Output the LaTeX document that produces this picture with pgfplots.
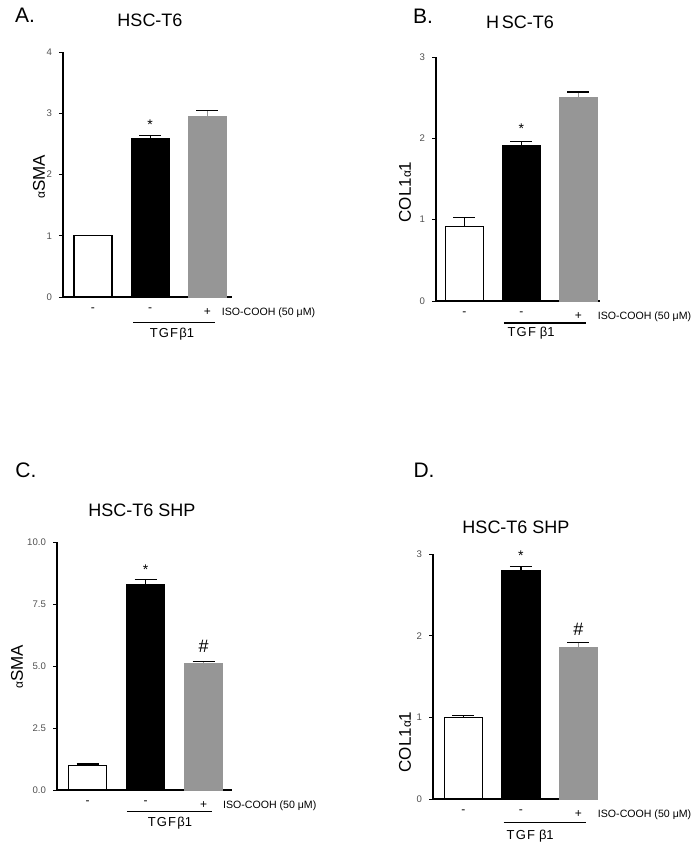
\documentclass[border=0pt]{standalone}
\usepackage{pgfplots}
\pgfplotsset{compat=1.18}
\usepackage{fontspec}
\setmainfont{Liberation Sans}
\definecolor{barg}{RGB}{150,150,150}
\definecolor{tk}{RGB}{80,80,80}
\newcommand{\sa}{{\fontsize{6}{7}\selectfont α}}
\newcommand{\iso}{{\fontsize{5.3}{6}\selectfont ISO-COOH (50 μM)}}
\newcommand{\tgf}{T\kern0.6pt G\kern0.6pt F\kern0.6pt β1}
\pgfplotsset{
 panel/.style={
  scale only axis, anchor=south west, axis lines=left,
  axis line style={-, line width=0.6pt},
  ybar, bar width=19pt, clip=false, xtick={0,1,2},
  x tick style={draw=none},
  y tick style={line width=0.5pt, black}, tick align=outside, major tick length=2pt,
  ymin=0,
  yticklabel style={font=\fontsize{4.8}{6}\selectfont, text=tk},
  /pgf/number format/assume math mode=true,
  xticklabel style={font=\fontsize{6}{7}\selectfont, text=black, anchor=north},
  error bars/y dir=plus, error bars/y explicit,
  error bars/error mark options={rotate=90, mark size=5.5pt, line width=0.6pt},
  error bars/error bar style={line width=0.6pt},
 },
 wb/.style={fill=white, draw=black, line width=0.6pt, bar shift=0pt},
 bb/.style={fill=black, draw=black, line width=0.6pt, bar shift=0pt},
 gb/.style={fill=barg, draw=barg, line width=0.6pt, bar shift=0pt},
}
\begin{document}
\begin{tikzpicture}
\useasboundingbox (0,0) rectangle (348.5pt,-422.5pt);
% Panel A
\begin{axis}[panel, at={(31.5pt,-148.5pt)}, width=84.5pt, height=122.5pt,
  xmin=-0.524, xmax=2.43, ymax=4, ytick={0,1,2,3,4},
  xticklabels={-,-,{+\rlap{\hspace{5.5pt}\iso}}}]
\addplot[wb] coordinates {(0,1.01)};
\addplot[bb] coordinates {(1,2.59) +- (0,0.05)};
\addplot[gb] coordinates {(2,2.95) +- (0,0.09)};
\node[font=\fontsize{7}{8}\selectfont] at (axis cs:1,2.82) {*};
\draw[line width=0.6pt] (axis cs:0.70,-0.41) -- (axis cs:2.13,-0.41);
\node[font=\fontsize{6.5}{8}\selectfont] at (axis cs:1.38,-0.60) {\tgf};
\end{axis}
% Panel B
\begin{axis}[panel, at={(218pt,-150.5pt)}, width=82pt, height=122pt,
  xmin=-0.5, xmax=2.38, ymax=3, ytick={0,1,2,3},
  xticklabels={-,-,{+\rlap{\hspace{8pt}\iso}}}]
\addplot[wb] coordinates {(0,0.92) +- (0,0.11)};
\addplot[bb] coordinates {(1,1.91) +- (0,0.05)};
\addplot[gb] coordinates {(2,2.50) +- (0,0.07)};
\node[font=\fontsize{7}{8}\selectfont] at (axis cs:1,2.12) {*};
\draw[line width=0.6pt] (axis cs:0.69,-0.27) -- (axis cs:2.13,-0.27);
\node[font=\fontsize{6.5}{8}\selectfont] at (axis cs:1.17,-0.40) {T\kern0.6pt G\kern0.6pt F\kern2pt β1};
\end{axis}
% Panel C
\begin{axis}[panel, at={(28.5pt,-395pt)}, width=87.5pt, height=123.9pt,
  xmin=-0.526, xmax=2.49, ymax=10, ytick={0,2.5,5,7.5,10},
  yticklabels={0.0,2.5,5.0,7.5,10.0},
  xticklabels={-,-,{+\rlap{\hspace{8pt}\iso}}}]
\addplot[wb] coordinates {(0,1.00) +- (0,0.05)};
\addplot[bb] coordinates {(1,8.28) +- (0,0.20)};
\addplot[gb] coordinates {(2,5.09) +- (0,0.11)};
\node[font=\fontsize{7}{8}\selectfont] at (axis cs:1,8.9) {*};
\node[font=\fontsize{9}{10}\selectfont] at (axis cs:2,5.79) {\#};
\draw[line width=0.6pt] (axis cs:0.68,-0.88) -- (axis cs:2.15,-0.88);
\node[font=\fontsize{6.5}{8}\selectfont] at (axis cs:1.42,-1.33) {\tgf};
\end{axis}
% Panel D
\begin{axis}[panel, at={(216.5pt,-399.5pt)}, width=82.5pt, height=122.5pt,
  xmin=-0.53, xmax=2.34, ymax=3, ytick={0,1,2,3},
  xticklabels={-,-,{+\rlap{\hspace{8pt}\iso}}}]
\addplot[wb] coordinates {(0,1.00) +- (0,0.02)};
\addplot[bb] coordinates {(1,2.80) +- (0,0.05)};
\addplot[gb] coordinates {(2,1.86) +- (0,0.06)};
\node[font=\fontsize{7}{8}\selectfont] at (axis cs:1,2.98) {*};
\node[font=\fontsize{9}{10}\selectfont] at (axis cs:2,2.08) {\#};
\draw[line width=0.6pt] (axis cs:0.70,-0.29) -- (axis cs:2.13,-0.29);
\node[font=\fontsize{6.5}{8}\selectfont] at (axis cs:1.16,-0.46) {T\kern0.6pt G\kern0.6pt F\kern2pt β1};
\end{axis}
% Titles, letters, y labels
\node[font=\fontsize{10.5}{12}\selectfont] at (12.5pt,-7.5pt) {A.};
\node[font=\fontsize{9}{11}\selectfont] at (75pt,-10pt) {HSC-T6};
\node[font=\fontsize{10.5}{12}\selectfont] at (211.5pt,-8pt) {B.};
\node[font=\fontsize{9}{11}\selectfont] at (260pt,-11pt) {H\,SC-T6};
\node[font=\fontsize{10.5}{12}\selectfont] at (13pt,-235pt) {C.};
\node[font=\fontsize{9}{11}\selectfont] at (71pt,-255pt) {HSC-T6 SHP};
\node[font=\fontsize{10.5}{12}\selectfont] at (212pt,-235pt) {D.};
\node[font=\fontsize{9}{11}\selectfont] at (258pt,-263.5pt) {HSC-T6 SHP};
\node[rotate=90, font=\fontsize{8.5}{10}\selectfont] at (19.5pt,-88.5pt) {\sa SMA};
\node[rotate=90, font=\fontsize{8.5}{10}\selectfont] at (202.5pt,-96pt) {COL1\sa1};
\node[rotate=90, font=\fontsize{8.5}{10}\selectfont] at (8.5pt,-333.5pt) {\sa SMA};
\node[rotate=90, font=\fontsize{8.5}{10}\selectfont] at (202.5pt,-371pt) {COL1\sa1};
\end{tikzpicture}
\end{document}
